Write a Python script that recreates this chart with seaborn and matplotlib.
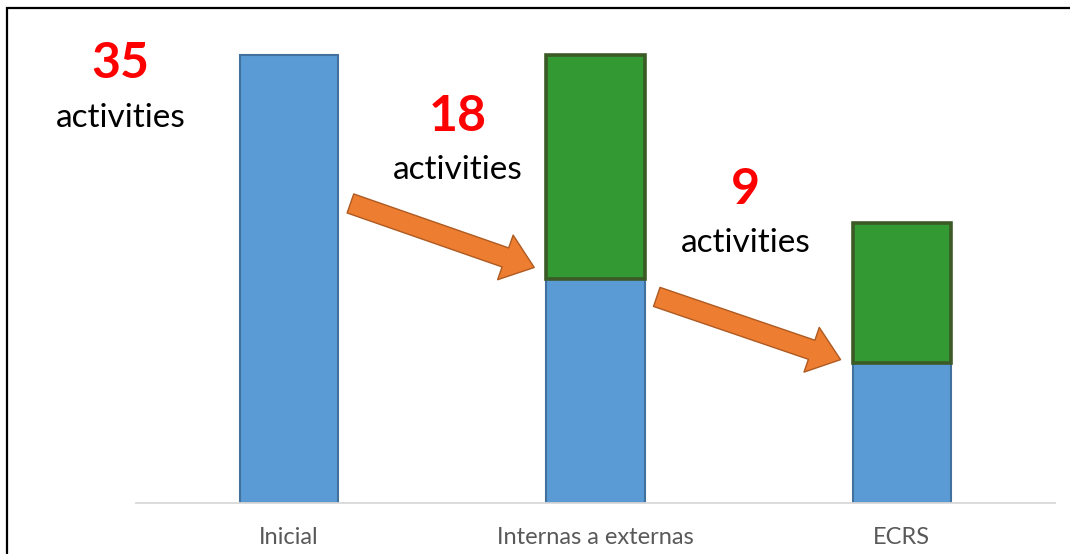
import numpy as np
import pandas as pd
import matplotlib
matplotlib.use("Agg")
import matplotlib.pyplot as plt
from matplotlib.patches import Rectangle
import seaborn as sns

# data
stages = ["Inicial", "Internas a externas", "ECRS"]
blue_vals = [35, 17.5, 10.9]
green_vals = [0, 17.5, 11.0]
counts = ["35", "18", "9"]
count_pos = [(-0.55, 34.3), (0.55, 30.2), (1.49, 24.5)]

BLUE, BLUE_EDGE = "#5b9bd5", "#41719c"
GREEN, GREEN_EDGE = "#339933", "#3b5a26"
ORANGE, ORANGE_EDGE = "#ed7d31", "#ae5a21"

sns.set_theme(style="white")
plt.rcParams["font.family"] = ["Lato", "DejaVu Sans"]

df = pd.DataFrame({"stage": stages, "blue": blue_vals, "green": green_vals})

fig = plt.figure(figsize=(10.7, 5.54), dpi=100)
ax = fig.add_axes([136 / 1070, 51 / 554, 919 / 1070, 495 / 554])

sns.barplot(data=df, x="stage", y="blue", color=BLUE, saturation=1,
            width=0.32, edgecolor=BLUE_EDGE, linewidth=1.5, ax=ax, zorder=2)
sns.barplot(data=df, x="stage", y="green", color=GREEN, saturation=1,
            width=0.32, edgecolor=GREEN_EDGE, linewidth=2.6, ax=ax,
            bottom=df["blue"].values, zorder=3)
# hide zero-height green bar
for p in ax.patches:
    if p.get_height() == 0:
        p.set_visible(False)

ax.set_xlim(-0.5, 2.5)
ax.set_ylim(0, 38.67)
ax.set_xlabel("")
ax.set_ylabel("")
ax.set_yticks([])
ax.tick_params(axis="x", length=0, pad=17, labelsize=17, labelcolor="#595959")
for s in ["top", "right", "left"]:
    ax.spines[s].set_visible(False)
ax.spines["bottom"].set_color("#d9d9d9")
ax.spines["bottom"].set_linewidth(1.3)

# arrows between stages
arrows = [((0.20, 23.4), (0.80, 18.4)), ((1.20, 16.1), (1.80, 11.2))]
for (x0, y0), (x1, y1) in arrows:
    ax.annotate("", xy=(x1, y1), xytext=(x0, y0),
                arrowprops=dict(arrowstyle="simple,head_width=3.4,head_length=2.2,tail_width=1.45",
                                mutation_scale=10, fc=ORANGE, ec=ORANGE_EDGE, lw=1,
                                shrinkA=0, shrinkB=0), zorder=4)

for c, (x, y) in zip(counts, count_pos):
    ax.text(x, y, c, color="#ff0000", fontsize=36, fontweight="bold",
            ha="center", va="center", clip_on=False)
    ax.text(x, y - 4.2, "activities", color="black", fontsize=24,
            ha="center", va="center", clip_on=False)

# frame around the picture (only top/left visible in reference)
fig.patches.append(Rectangle((7 / 1070, -0.1), 1.2, 546 / 554 + 0.1,
                             transform=fig.transFigure, fill=False,
                             ec="black", lw=1.6))

fig.savefig("out.png", dpi=100)
